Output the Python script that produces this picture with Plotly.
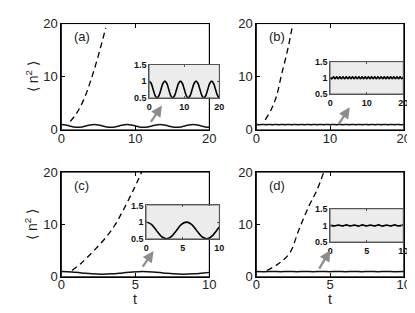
import plotly.graph_objects as go

W, H = 415, 313

# ---------------- data ----------------
# panel (a): oscillating solid curve (also shown in inset), t in [0, 20]
t_a = [0, 0.56, 1.11, 1.67, 2.22, 2.78, 3.34, 3.89, 4.45, 5.01, 5.56, 6.12, 6.67,
       7.23, 7.79, 8.34, 8.9, 9.46, 10.01, 10.57, 11.12, 11.68, 12.24, 12.79, 13.35,
       13.91, 14.46, 15.02, 15.57, 16.13, 16.69, 17.24, 17.8, 18.36, 18.91, 19.47, 20.0]
n_a = [1.0, 0.93, 0.75, 0.57, 0.5, 0.57, 0.75, 0.93,
       1.0, 0.93, 0.75, 0.57, 0.5, 0.57, 0.75, 0.93,
       1.0, 0.93, 0.75, 0.57, 0.5, 0.57, 0.75, 0.93,
       1.0, 0.93, 0.75, 0.57, 0.5, 0.57, 0.75, 0.93,
       1.0, 0.93, 0.75, 0.57, 0.5]
td_a = [1.2, 2.0, 3.0, 4.0, 5.0, 6.0]
nd_a = [1.6, 3.0, 5.6, 9.4, 14.0, 19.2]

# panel (b): nearly flat solid curve with small fast wiggles, t in [0, 20]
t_b = [0, 0.43, 0.87, 1.3, 1.74, 2.17, 2.61, 3.04, 3.48, 3.91, 4.35, 4.78, 5.22,
       5.65, 6.09, 6.52, 6.96, 7.39, 7.83, 8.26, 8.7, 9.13, 9.57, 10.0, 10.43,
       10.87, 11.3, 11.74, 12.17, 12.61, 13.04, 13.48, 13.91, 14.35, 14.78, 15.22,
       15.65, 16.09, 16.52, 16.96, 17.39, 17.83, 18.26, 18.7, 19.13, 19.57, 20.0]
n_b = [1.0, 0.97, 1.03, 0.97, 1.03, 0.97, 1.03, 0.97, 1.03, 0.97, 1.03, 0.97,
       1.03, 0.97, 1.03, 0.97, 1.03, 0.97, 1.03, 0.97, 1.03, 0.97, 1.03, 0.97,
       1.03, 0.97, 1.03, 0.97, 1.03, 0.97, 1.03, 0.97, 1.03, 0.97, 1.03, 0.97,
       1.03, 0.97, 1.03, 0.97, 1.03, 0.97, 1.03, 0.97, 1.03, 0.97, 1.03]
td_b = [1.2, 2.0, 2.74, 3.4, 4.2, 4.86]
nd_b = [1.9, 3.8, 6.4, 10.3, 14.8, 19.3]

# panel (c): slow oscillation, t in [0, 10]
t_c = [0, 0.69, 1.38, 2.06, 2.75, 3.44, 4.13, 4.81, 5.5, 6.19, 6.88, 7.56,
       8.25, 8.94, 9.63, 10.0]
n_c = [1.0, 0.93, 0.75, 0.57, 0.5, 0.57, 0.75, 0.93, 1.0, 0.93, 0.75, 0.57,
       0.5, 0.57, 0.75, 0.85]
td_c = [0.72, 1.38, 2.2, 3.03, 3.6, 4.12, 4.89, 5.43]
nd_c = [1.2, 2.7, 5.0, 7.6, 9.8, 12.4, 16.7, 20.0]

# panel (d): nearly flat with small wiggles, t in [0, 10]
t_d = [0, 0.55, 1.1, 1.65, 2.2, 2.75, 3.3, 3.85, 4.4, 4.95, 5.5, 6.05, 6.6,
       7.15, 7.7, 8.25, 8.8, 9.35, 10.0]
n_d = [1.0, 0.985, 1.01, 0.985, 1.015, 0.985, 1.01, 0.98, 1.015, 0.985, 1.01,
       0.985, 1.015, 0.98, 1.01, 0.985, 1.015, 0.985, 1.01]
td_d = [0.71, 1.5, 2.25, 2.9, 3.58, 4.1, 4.57]
nd_d = [1.2, 2.5, 4.5, 9.1, 13.6, 16.5, 20.0]

panel_labels = ["(a)", "(b)", "(c)", "(d)"]
main_xranges = [[0, 20], [0, 20], [0, 10], [0, 10]]
main_xticks = [[0, 10, 20], [0, 10, 20], [0, 5, 10], [0, 5, 10]]
main_yrange = [0, 20]
main_yticks = [0, 10, 20]
inset_yrange = [0.5, 1.5]
inset_yticks = [0.5, 1, 1.5]
inset_yticktext = ["0.5", "1", "1.5"]

solid = [(t_a, n_a), (t_b, n_b), (t_c, n_c), (t_d, n_d)]
dashed = [(td_a, nd_a), (td_b, nd_b), (td_c, nd_c), (td_d, nd_d)]

# ---------------- layout geometry (pixels) ----------------
main_px = [(50.7, 202.7, 9, 120.7), (251, 402.5, 9, 120.7),
           (50.7, 202.7, 165, 275), (251, 402.5, 165, 275)]
inset_px = [(141, 213, 52, 87), (327, 402, 49, 83),
            (138, 213, 200, 235), (327, 402, 203.5, 238.5)]
arrow_px = [(154, 95, -12, 18), (347, 97, -12, 18),
            (145.5, 248, -12, 17), (327, 247, -12, 20)]


def xdom(x0, x1):
    return [x0 / W, x1 / W]


def ydom(y0, y1):
    return [1 - y1 / H, 1 - y0 / H]


FONT = "Liberation Sans, Arial, Helvetica, sans-serif"
fig = go.Figure()
layout = dict(width=W, height=H, margin=dict(l=0, r=0, t=0, b=0),
              paper_bgcolor="white", plot_bgcolor="rgba(0,0,0,0)",
              showlegend=False, font=dict(family=FONT, color="#222"))
shapes, annotations = [], []

for i in range(4):
    k = i + 1
    ki = i + 5
    xs = "" if k == 1 else str(k)
    # main axes
    x0, x1, y0, y1 = main_px[i]
    layout["xaxis" + xs] = dict(domain=xdom(x0, x1), range=main_xranges[i], anchor="y" + xs,
                                tickvals=main_xticks[i], ticks="inside", ticklen=4,
                                tickcolor="black", showline=True, linecolor="black",
                                linewidth=1, mirror="ticks", showgrid=False, zeroline=False,
                                ticklabelstandoff=-4,
                                tickfont=dict(size=13, family=FONT, color="#222"))
    layout["yaxis" + xs] = dict(domain=ydom(y0, y1), range=main_yrange, anchor="x" + xs,
                                tickvals=main_yticks, ticks="inside", ticklen=4,
                                tickcolor="black", showline=True, linecolor="black",
                                linewidth=1, mirror="ticks", showgrid=False, zeroline=False,
                                tickfont=dict(size=13, family=FONT, color="#222"))
    # main frame (drawn below, so the inset covers it)
    shapes.append(dict(type="rect", xref="x" + xs + " domain", yref="y" + xs + " domain",
                       x0=0, x1=1, y0=0, y1=1, fillcolor="rgba(0,0,0,0)",
                       line=dict(color="black", width=1), layer="below"))
    # inset axes
    a0, a1, b0, b1 = inset_px[i]
    layout["xaxis" + str(ki)] = dict(domain=xdom(a0, a1), range=main_xranges[i],
                                     anchor="y" + str(ki), tickvals=main_xticks[i],
                                     ticks="inside", ticklen=2, tickcolor="#555",
                                     showline=True, linecolor="#555", linewidth=1,
                                     mirror="ticks", showgrid=False, zeroline=False,
                                     tickfont=dict(size=9, family=FONT, color="#111",
                                                   weight="bold"))
    layout["yaxis" + str(ki)] = dict(domain=ydom(b0, b1), range=inset_yrange,
                                     anchor="x" + str(ki), tickvals=inset_yticks,
                                     ticktext=inset_yticktext,
                                     ticks="inside", ticklen=2, tickcolor="#555",
                                     showline=True, linecolor="#555", linewidth=1,
                                     mirror="ticks", showgrid=False, zeroline=False,
                                     tickfont=dict(size=9, family=FONT, color="#111",
                                                   weight="bold"))
    # inset gray background
    shapes.append(dict(type="rect", xref="x" + str(ki), yref="y" + str(ki),
                       x0=main_xranges[i][0], x1=main_xranges[i][1],
                       y0=inset_yrange[0], y1=inset_yrange[1],
                       fillcolor="#ececec", line=dict(color="#555", width=1), layer="below"))

    ts, ns = solid[i]
    td, nd = dashed[i]
    fig.add_trace(go.Scatter(x=td, y=nd, mode="lines", xaxis="x" + xs, yaxis="y" + xs,
                             line=dict(color="black", width=1.3, dash="6px,4px",
                                       shape="spline")))
    fig.add_trace(go.Scatter(x=ts, y=ns, mode="lines", xaxis="x" + xs, yaxis="y" + xs,
                             line=dict(color="#111", width=1.5, shape="spline")))
    fig.add_trace(go.Scatter(x=ts, y=ns, mode="lines", xaxis="x" + str(ki),
                             yaxis="y" + str(ki),
                             line=dict(color="black", width=1.6, shape="spline")))

    # panel label
    annotations.append(dict(text=panel_labels[i], xref="paper", yref="paper",
                            x=(x0 + 11) / W, y=1 - (y0 + 4) / H, xanchor="left",
                            yanchor="top", showarrow=False,
                            font=dict(size=13, family=FONT, color="#222")))
    # arrow
    hx, hy, ax, ay = arrow_px[i]
    annotations.append(dict(text="", xref="paper", yref="paper", x=hx / W, y=1 - hy / H,
                            ax=ax, ay=ay, showarrow=True, arrowhead=2, arrowsize=1,
                            arrowwidth=2.2, arrowcolor="#8c8c8c"))

# y titles (left column) and x titles (bottom row)
for (x0, x1, y0, y1) in [main_px[0], main_px[2]]:
    annotations.append(dict(text="\u27e8 n<sup>2</sup> \u27e9", xref="paper", yref="paper",
                            x=20 / W, y=1 - ((y0 + y1) / 2) / H, textangle=-90,
                            xanchor="center", yanchor="middle",
                            showarrow=False, font=dict(size=14, family=FONT, color="#222")))
for (x0, x1, y0, y1) in [main_px[2], main_px[3]]:
    annotations.append(dict(text="t", xref="paper", yref="paper",
                            x=((x0 + x1) / 2) / W, y=1 - 298 / H, showarrow=False,
                            xanchor="center", yanchor="middle",
                            font=dict(size=14, family=FONT, color="#222")))

layout["shapes"] = shapes
layout["annotations"] = annotations
fig.update_layout(**layout)
fig.write_html("out.html")
